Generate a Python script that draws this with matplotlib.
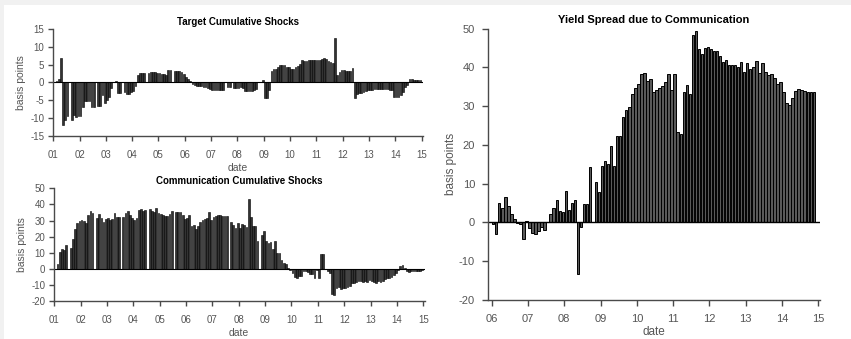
import numpy as np
import matplotlib
matplotlib.use("Agg")
import matplotlib.pyplot as plt
from matplotlib.patches import Rectangle

plt.rcParams['font.family'] = 'Liberation Sans'
plt.rcParams['axes.unicode_minus'] = False

# Monthly cumulative shocks, Jan 2001 - Dec 2014 (basis points)
target_start = 2001
target_shocks = [
    0, 0.3, 1.0, 6.8, -12.0, -10.5, -9.3, 0, -10.5, -9.0, -9.7, -9.3,      # 2001
    -9.3, -6.8, -5.3, -5.1, -5.3, -7.0, -6.8, 0, -6.5, -6.5, -3.5, -5.8,   # 2002
    -4.8, -4.0, -1.5, 0, 0.3, -3.0, -3.0, 0, -2.8, -3.2, -3.1, -2.7,       # 2003
    -2.3, -1.0, 2.0, 2.6, 2.7, 2.7, 0, 2.7, 2.8, 2.8, 2.8, 2.7,            # 2004
    2.6, 2.5, 2.3, 2.2, 3.4, 3.4, 0, 3.3, 3.3, 3.2, 2.9, 2.3,              # 2005
    1.5, 0.9, 0.5, -0.3, -0.8, -1.0, -1.0, -1.1, -1.3, -1.4, -1.6, -1.8,   # 2006
    -2.0, -2.0, -2.1, -2.1, -2.0, -2.0, 0, -1.3, -1.3, 0, -1.5, -1.5,      # 2007
    -1.5, -1.4, -1.5, -2.3, -2.5, -2.3, -2.4, -2.0, -1.8, 0, 0, 0.8,       # 2008
    -4.3, -4.3, -2.2, 3.3, 3.8, 3.9, 4.3, 4.8, 4.9, 4.8, 4.3, 4.2,         # 2009
    3.7, 3.7, 4.3, 4.5, 5.2, 6.3, 6.1, 5.9, 6.2, 6.3, 6.3, 6.3,            # 2010
    6.3, 6.4, 6.6, 7.0, 6.6, 5.9, 5.6, 5.4, 12.6, 2.0, 3.0, 3.6,           # 2011
    3.5, 3.2, 3.1, 3.1, 4.0, -4.3, -3.3, -3.0, -2.9, -2.6, -2.3, -2.0,     # 2012
    -2.1, -2.0, -1.9, -1.8, -1.7, -1.7, -1.7, -1.8, -1.8, -2.2, -2.2, -4.1,  # 2013
    -4.1, -4.0, -3.5, -2.8, -1.2, -0.6, 0.9, 0.9, 0.8, 0.7, 0.6, 0.6,      # 2014
]

comm_shocks = [
    0, 3.2, 10.5, 12.5, 11.8, 14.7, 0, 13.2, 18.3, 25, 28.5, 30,           # 2001
    30.3, 30, 28.5, 33.5, 35.8, 34.8, 0, 31.3, 33.8, 31.3, 29, 30.8,       # 2002
    31.5, 30.5, 31, 34.5, 32, 32.3, 0, 32, 34.5, 35.7, 33.3, 31.8,         # 2003
    30.5, 31.7, 36.3, 37, 35.8, 36.8, 0, 37, 36, 35.5, 37.5, 34.5,         # 2004
    34, 33.5, 32.5, 33, 34, 36.2, 0, 35.5, 35, 35.5, 33.5, 31,             # 2005
    31.5, 33.5, 26.3, 27.3, 25, 26.5, 28.8, 30.5, 31, 31.5, 35, 30.5,      # 2006
    32, 33, 33.5, 33.5, 33, 32.5, 32.7, 0, 28.8, 27.5, 25.5, 28.3,         # 2007
    25.5, 28, 27, 26, 43.5, 32, 26.5, 26.7, 17.5, 0, 21, 23.5,             # 2008
    17, 16.3, 16.8, 12.3, 17.2, 10, 10, 5.5, 3.5, 3, 0.5, -0.5,            # 2009
    -2.5, -5, -6, -4.5, -4.3, -1.5, -1.5, -2, -3, -3.5, -6, -0.5,          # 2010
    -5.8, 9.3, 9.5, 0, -1.5, -2.5, -15.5, -16, -12, -11, -12.3, -12,       # 2011
    -12, -11.5, -10.5, -9, -8.5, -8, -7.7, -7.5, -8, -7.5, -8.3, -7,       # 2012
    -7.5, -8, -8.5, -7.3, -8, -7.5, -6.3, -6, -5.7, -5, -3.7, -2.5,        # 2013
    -1, 1.5, 2.5, 0.5, -1.5, -1.7, -1.5, -1.5, -1.4, -1.3, -1.2, -1.0,     # 2014
]

# Yield spread attributable to communication, Jan 2006 - Nov 2014
spread_start = 2006
yield_spread = [
    -0.3, -3.0, 5.1, 3.7, 6.6, 4.3, 2.3, 1.0, -0.2, -0.4, -4.3, 0.5,
    -1.5, -2.7, -3.0, -2.3, -1.3, -2.0, 0, 2.2, 3.6, 5.8, 2.9, 2.8,
    8.0, 3.2, 4.9, 5.9, -13.2, -1.3, 4.8, 4.7, 14.4, 0, 10.4, 7.9,
    14.6, 15.8, 15.0, 19.7, 14.5, 22.3, 22.2, 27.2, 28.9, 29.7, 33.0, 34.7,
    35.8, 38.2, 38.6, 36.4, 36.9, 33.6, 34.2, 34.7, 35.2, 36.1, 38.3, 34.2,
    38.2, 23.2, 22.8, 33.6, 35.4, 33.1, 48.4, 49.4, 44.8, 43.3, 44.9, 45.3,
    44.6, 44.3, 44.1, 42.8, 41.3, 41.8, 40.5, 40.7, 40.7, 40.0, 41.4, 38.9,
    41.0, 39.5, 40.1, 41.5, 38.6, 41.0, 38.8, 38.1, 38.4, 37.2, 35.6, 36.3,
    33.6, 30.9, 30.2, 32.1, 34.0, 34.3, 34.1, 33.9, 33.7, 33.6, 33.6,
]

GRAY = '#4a4a4a'
TEXT = '#555555'


def month_dates(start, n):
    return start + (np.arange(n) + 0.5) / 12.0


def style_axis(ax, years, ylim, yticks, tick_fs, label_fs, ticklen, xpad, ypad, xlabelpad, ylabelpad=3):
    for side in ['top', 'right']:
        ax.spines[side].set_visible(False)
    for side in ['left', 'bottom']:
        ax.spines[side].set_color(GRAY)
        ax.spines[side].set_linewidth(1.0)
    ax.set_ylim(*ylim)
    ax.set_yticks(yticks)
    ax.set_xticks(years)
    ax.set_xticklabels(['%02d' % (y % 100) for y in years])
    ax.tick_params(direction='out', length=ticklen, width=1.0, color=GRAY,
                   labelcolor=TEXT, labelsize=tick_fs)
    ax.tick_params(axis='x', pad=xpad)
    ax.tick_params(axis='y', pad=ypad)
    ax.set_xlabel('date', fontsize=label_fs, color=TEXT, labelpad=xlabelpad)
    ax.set_ylabel('basis points', fontsize=label_fs, color=TEXT, labelpad=ylabelpad)


fig = plt.figure(figsize=(8.51, 3.39), dpi=100)

# light frame along the top and left edges
fig.patches.append(Rectangle((0, 0), 4 / 851, 1, transform=fig.transFigure,
                             facecolor='#f1f1f1', edgecolor='none', zorder=0))
fig.patches.append(Rectangle((0, 1 - 5 / 339), 1, 5 / 339, transform=fig.transFigure,
                             facecolor='#f1f1f1', edgecolor='none', zorder=0))

# Target cumulative shocks
ax1 = fig.add_axes([0.0619, 0.599, 0.4351, 0.3155])
x1 = month_dates(target_start, len(target_shocks))
ax1.bar(x1, target_shocks, width=0.8 / 12, color='#333333', edgecolor='black', linewidth=0.4)
ax1.axhline(0, color='black', linewidth=0.8)
ax1.set_xlim(2000.98, 2015.05)
style_axis(ax1, range(2001, 2016), (-15, 15), range(-15, 16, 5), 7, 7.5, 3.5, 6.5, 2.5, 2.5)
ax1.set_title('Target Cumulative Shocks', fontsize=7, fontweight='bold', pad=3)

# Communication cumulative shocks
ax2 = fig.add_axes([0.0630, 0.112, 0.4360, 0.3325])
x2 = month_dates(target_start, len(comm_shocks))
ax2.bar(x2, comm_shocks, width=0.8 / 12, color='#333333', edgecolor='black', linewidth=0.4)
ax2.axhline(0, color='black', linewidth=0.8)
ax2.set_xlim(2000.98, 2015.05)
style_axis(ax2, range(2001, 2016), (-20, 50), range(-20, 51, 10), 7, 7.5, 3.5, 6.5, 2.5, 2.5)
ax2.set_title('Communication Cumulative Shocks', fontsize=7, fontweight='bold', pad=3)

# Yield spread due to communication
ax3 = fig.add_axes([0.5738, 0.115, 0.3898, 0.8009])
x3 = month_dates(spread_start, len(yield_spread))
ax3.bar(x3, yield_spread, width=0.8 / 12, color='#595959', edgecolor='black', linewidth=0.7)
ax3.axhline(0, color='black', linewidth=1.0)
ax3.set_xlim(2005.906, 2015.047)
style_axis(ax3, range(2006, 2016), (-20, 50), range(-20, 51, 10), 8, 8.5, 4.5, 5.5, 5, 1.5, 1.5)
ax3.set_title('Yield Spread due to Communication', fontsize=8, fontweight='bold', pad=4)

fig.savefig('out.png', dpi=100)
